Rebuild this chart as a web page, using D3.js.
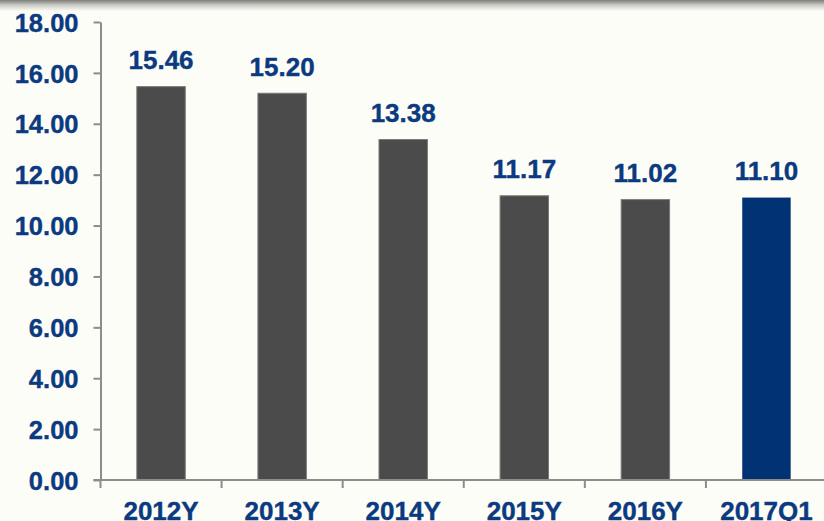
<!DOCTYPE html>
<html>
<head>
<meta charset="utf-8">
<script src="https://cdn.jsdelivr.net/npm/d3@7"></script>
<style>
  html, body { margin: 0; padding: 0; background: #fdfdf7; }
  svg { display: block; }
</style>
</head>
<body>
<svg id="chart" width="824" height="521"></svg>
<script>
// Annual figures with the latest quarter highlighted
const categories = ["2012Y", "2013Y", "2014Y", "2015Y", "2016Y", "2017Q1"];
const values = [15.46, 15.20, 13.38, 11.17, 11.02, 11.10];
const yTicks = [0, 2, 4, 6, 8, 10, 12, 14, 16, 18];

const W = 824, H = 521;
const margin = { left: 100.5, right: -3, top: 22, bottom: 41 };
const textColor = "#0b3a80";
const axisColor = "#8c8c8c";
const font = "Liberation Sans, Arial, sans-serif";

const svg = d3.select("#chart");

// soft shadow along the top edge
const defs = svg.append("defs");
const grad = defs.append("linearGradient").attr("id", "topShade")
  .attr("x1", 0).attr("y1", 0).attr("x2", 0).attr("y2", 1);
grad.append("stop").attr("offset", "0%").attr("stop-color", "#7d7d7a");
grad.append("stop").attr("offset", "45%").attr("stop-color", "#c9c9c4");
grad.append("stop").attr("offset", "100%").attr("stop-color", "#fdfdf7");
svg.append("rect").attr("x", 0).attr("y", 0).attr("width", W).attr("height", 11)
  .attr("fill", "url(#topShade)");

const x = d3.scaleBand()
  .domain(categories)
  .range([margin.left, W - margin.right])
  .paddingInner(0.6)
  .paddingOuter(0.3);

const y = d3.scaleLinear()
  .domain([0, 18])
  .range([H - margin.bottom, margin.top]);

// bars
svg.append("g").selectAll("rect")
  .data(values)
  .join("rect")
  .attr("x", (d, i) => x(categories[i]))
  .attr("y", d => y(d))
  .attr("width", x.bandwidth())
  .attr("height", d => y(0) - y(d))
  .attr("fill", (d, i) => i === categories.length - 1 ? "#003274" : "#4b4b4b")
  .attr("stroke", (d, i) => i === categories.length - 1 ? "none" : "#7a7a7a")
  .attr("stroke-width", 1);

// value labels
svg.append("g").selectAll("text")
  .data(values)
  .join("text")
  .attr("x", (d, i) => x(categories[i]) + x.bandwidth() / 2)
  .attr("y", d => y(d) - 17.5)
  .attr("text-anchor", "middle")
  .attr("font-family", font)
  .attr("font-weight", "bold")
  .attr("font-size", 26)
  .attr("fill", textColor)
  .attr("stroke", textColor)
  .attr("stroke-width", 0.4)
  .text(d => d.toFixed(2));

// y axis
const yAxis = d3.axisLeft(y)
  .tickValues(yTicks)
  .tickFormat(d => d.toFixed(2))
  .tickSizeInner(7)
  .tickSizeOuter(0)
  .tickPadding(15);
const gy = svg.append("g")
  .attr("transform", `translate(${margin.left},0)`)
  .call(yAxis);
gy.select(".domain").attr("stroke", axisColor).attr("stroke-width", 2);
gy.selectAll(".tick line").attr("stroke", axisColor).attr("stroke-width", 2);
gy.selectAll(".tick text")
  .attr("font-family", font)
  .attr("font-weight", "bold")
  .attr("font-size", 25.5)
  .attr("fill", textColor)
  .attr("stroke", textColor)
  .attr("stroke-width", 0.4)
  .attr("dy", "0.36em");

// x axis with separators at band boundaries
const xAxis = d3.axisBottom(x).tickSize(0).tickPadding(22);
const gx = svg.append("g")
  .attr("transform", `translate(0,${y(0)})`)
  .call(xAxis);
gx.select(".domain").remove();
gx.append("line")
  .attr("x1", margin.left - 7).attr("x2", W)
  .attr("stroke", axisColor).attr("stroke-width", 2);
const step = x.step();
gx.selectAll("line.sep")
  .data(categories.map((c, i) => i))
  .join("line")
  .attr("class", "sep")
  .attr("x1", i => margin.left + i * step)
  .attr("x2", i => margin.left + i * step)
  .attr("y1", 0).attr("y2", 8)
  .attr("stroke", axisColor).attr("stroke-width", 2);
gx.selectAll(".tick text")
  .attr("font-family", font)
  .attr("font-weight", "bold")
  .attr("font-size", 26)
  .attr("fill", textColor)
  .attr("stroke", textColor)
  .attr("stroke-width", 0.4);
</script>
</body>
</html>
